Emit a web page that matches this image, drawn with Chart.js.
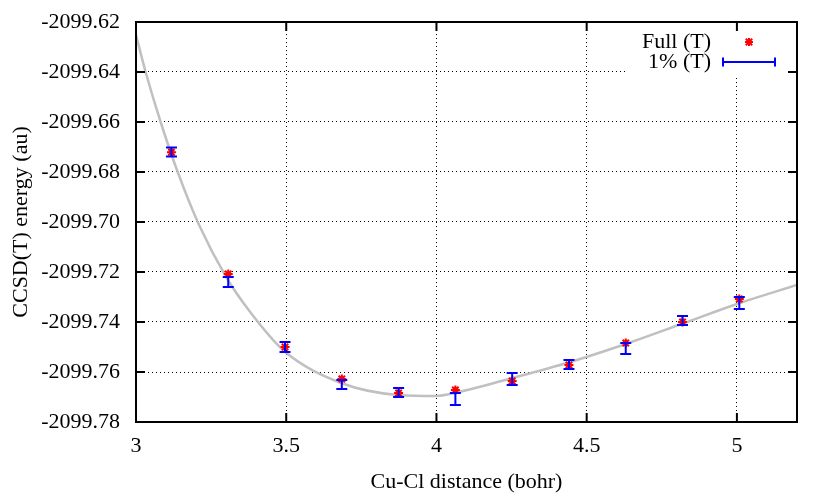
<!DOCTYPE html>
<html>
<head>
<meta charset="utf-8">
<script src="https://cdn.jsdelivr.net/npm/chart.js@4.4.1/dist/chart.umd.min.js"></script>
<style>
  html, body { margin: 0; padding: 0; background: #fff; }
  #wrap { width: 830px; height: 498px; }
</style>
</head>
<body>
<div id="wrap"><canvas id="chart" width="830" height="498"></canvas></div>
<script>
// Cu-Cl distances (bohr)
const distances = [3.118, 3.307, 3.496, 3.685, 3.874, 4.063, 4.252, 4.441, 4.630, 4.819, 5.008];
// Full (T) energies (au)
const fullEnergy = [-2099.6721, -2099.7208, -2099.7500, -2099.7628, -2099.7684, -2099.7672,
  -2099.7636, -2099.7572, -2099.7484, -2099.7400, -2099.7308];
// 1% (T) energies and error bar half-widths (au)
const partialEnergy = [-2099.6720, -2099.7240, -2099.7500, -2099.7650, -2099.7682, -2099.7708,
  -2099.7628, -2099.7570, -2099.7506, -2099.7394, -2099.7324];
const partialErr = [0.0018, 0.0020, 0.0020, 0.0018, 0.0018, 0.0024, 0.0024, 0.0018, 0.0022, 0.0018, 0.0024];
// fitted curve
const fitX = [3.0, 3.033, 3.083, 3.14, 3.21, 3.30, 3.38, 3.493, 3.683, 3.873, 4.0, 4.06, 4.253, 4.44, 4.63, 4.82, 5.01, 5.2];
const fitY = [-2099.6252, -2099.6404, -2099.6604, -2099.6804, -2099.7012, -2099.7220, -2099.7360, -2099.7516,
  -2099.7644, -2099.7692, -2099.7696, -2099.7684, -2099.7624, -2099.7562, -2099.7488, -2099.7406, -2099.7324, -2099.7252];

const xTicks = [3, 3.5, 4, 4.5, 5];
const yTicks = [-2099.78, -2099.76, -2099.74, -2099.72, -2099.70, -2099.68, -2099.66, -2099.64, -2099.62];

Chart.defaults.font.family = '"Liberation Serif", "Times New Roman", serif';
Chart.defaults.font.size = 22;
Chart.defaults.color = '#000';

const gnuFrame = {
  id: 'gnuFrame',
  afterDatasetsDraw(chart) {
    const { ctx, chartArea: a, scales: { x, y } } = chart;
    const line = (x1, y1, x2, y2) => { ctx.beginPath(); ctx.moveTo(x1, y1); ctx.lineTo(x2, y2); ctx.stroke(); };
    ctx.save();

    // error bars for the 1% (T) set
    const bars = chart.data.datasets[1];
    ctx.strokeStyle = bars.borderColor;
    ctx.lineWidth = 2;
    bars.data.forEach(p => {
      const px = x.getPixelForValue(p.x);
      const top = y.getPixelForValue(p.y + p.err);
      const bot = y.getPixelForValue(p.y - p.err);
      line(px, top, px, bot);
      line(px - 5.5, top, px + 5.5, top);
      line(px - 5.5, bot, px + 5.5, bot);
    });

    // key
    ctx.fillStyle = '#fff';
    ctx.fillRect(628, a.top, a.right - 628, 54);
    ctx.fillStyle = '#000';
    ctx.textAlign = 'right';
    ctx.textBaseline = 'middle';
    ctx.font = '22px "Liberation Serif", serif';
    const textX = a.right - 86;
    ctx.fillText(chart.data.datasets[0].label, textX, a.top + 20);
    ctx.fillText(bars.label, textX, a.top + 40);
    // star sample
    const mx = a.right - 48, my = a.top + 20;
    ctx.strokeStyle = '#ff0000';
    ctx.lineWidth = 2;
    line(mx - 4, my, mx + 4, my);
    line(mx, my - 4, mx, my + 4);
    line(mx - 3.2, my - 3.2, mx + 3.2, my + 3.2);
    line(mx - 3.2, my + 3.2, mx + 3.2, my - 3.2);
    // error bar sample
    const ly = a.top + 40;
    ctx.strokeStyle = bars.borderColor;
    line(a.right - 74, ly, a.right - 22, ly);
    line(a.right - 74, ly - 4.5, a.right - 74, ly + 4.5);
    line(a.right - 22, ly - 4.5, a.right - 22, ly + 4.5);

    // border and inward ticks
    ctx.strokeStyle = '#000';
    ctx.lineWidth = 2;
    ctx.strokeRect(a.left, a.top, a.right - a.left, a.bottom - a.top);
    y.ticks.forEach(t => {
      const py = y.getPixelForValue(t.value);
      line(a.left, py, a.left + 9, py);
      line(a.right, py, a.right - 9, py);
    });
    x.ticks.forEach(t => {
      const px = x.getPixelForValue(t.value);
      line(px, a.bottom, px, a.bottom - 9);
      line(px, a.top, px, a.top + 9);
    });
    ctx.restore();
  }
};

new Chart(document.getElementById('chart'), {
  type: 'scatter',
  data: {
    datasets: [
      {
        label: 'Full (T)',
        data: distances.map((d, i) => ({ x: d, y: fullEnergy[i] })),
        pointStyle: 'star',
        pointRadius: 4.5,
        borderWidth: 2,
        borderColor: '#ff0000',
        backgroundColor: '#ff0000',
        order: 1
      },
      {
        label: '1% (T)',
        data: distances.map((d, i) => ({ x: d, y: partialEnergy[i], err: partialErr[i] })),
        pointRadius: 0,
        borderColor: '#0000ff',
        backgroundColor: '#0000ff',
        order: 2
      },
      {
        label: 'fit',
        data: fitX.map((d, i) => ({ x: d, y: fitY[i] })),
        showLine: true,
        pointRadius: 0,
        borderColor: '#c0c0c0',
        borderWidth: 2.5,
        cubicInterpolationMode: 'monotone',
        order: 3
      }
    ]
  },
  options: {
    responsive: false,
    animation: false,
    events: [],
    devicePixelRatio: 1,
    layout: { padding: { left: 0, right: 33, top: 22, bottom: 0 } },
    plugins: { legend: { display: false }, tooltip: { enabled: false } },
    scales: {
      x: {
        type: 'linear',
        min: 3,
        max: 5.2,
        afterBuildTicks: s => { s.ticks = xTicks.map(v => ({ value: v })); },
        afterFit: s => { s.height = 76; s.paddingLeft = 0; s.paddingRight = 0; },
        ticks: { padding: 11, callback: v => String(v) },
        grid: { color: '#000', lineWidth: 1, drawTicks: false },
        border: { display: false, dash: [1, 3] },
        title: { display: true, text: 'Cu-Cl distance (bohr)', padding: { top: 0, bottom: 3 } }
      },
      y: {
        type: 'linear',
        min: -2099.78,
        max: -2099.62,
        afterBuildTicks: s => { s.ticks = yTicks.map(v => ({ value: v })); },
        afterFit: s => { s.width = 136; s.paddingTop = 0; s.paddingBottom = 0; },
        ticks: { padding: 16, callback: v => v.toFixed(2) },
        grid: { color: '#000', lineWidth: 1, drawTicks: false },
        border: { display: false, dash: [1, 3] },
        title: { display: true, text: 'CCSD(T) energy (au)', padding: { top: 8, bottom: 0 } }
      }
    }
  },
  plugins: [gnuFrame]
});
</script>
</body>
</html>
